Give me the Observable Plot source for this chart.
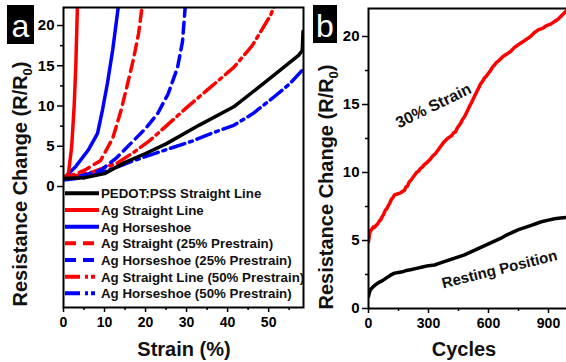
<!DOCTYPE html>
<html><head><meta charset="utf-8">
<script src="https://cdn.jsdelivr.net/npm/d3@7"></script>
<script src="https://cdn.jsdelivr.net/npm/@observablehq/plot@0.6"></script>
<style>
html,body{margin:0;padding:0;background:#fff;}
#wrap{position:relative;width:566px;height:362px;overflow:hidden;background:#fff;font-family:"Liberation Sans",Arial,sans-serif;}
#wrap > *{position:absolute;}
</style></head><body><div id="wrap"></div>
<script>
// ---------- Panel (a): resistance change vs strain ----------
const seriesNames = [
  "PEDOT:PSS Straight Line",
  "Ag Straight Line",
  "Ag Horseshoe",
  "Ag Straight (25% Prestrain)",
  "Ag Horseshoe (25% Prestrain)",
  "Ag Straight Line (50% Prestrain)",
  "Ag Horseshoe (50% Prestrain)"
];
const strainPEDOT = [0, 5, 10, 15, 20, 25, 33, 41.5, 50, 57.3, 58.2, 58.4];
const resPEDOT    = [1, 1.1, 1.6, 3.0, 4.1, 5.3, 7.6, 9.9, 13.3, 16.3, 16.9, 19.3];
const strainAgStraight = [0, 1.2, 2.0, 2.6, 3.0, 3.4];
const resAgStraight    = [1, 1.6, 5, 10, 15, 22.5];
const strainAgHorse = [0, 3, 6, 8.3, 9.5, 10.7, 12, 13.4];
const resAgHorse    = [1, 2.5, 4.5, 6.6, 9.5, 12.8, 17, 22.5];
const strainAgStraight25 = [0, 5, 9, 12, 14, 15.5, 17, 18.3, 19.2];
const resAgStraight25    = [1, 2, 3.2, 6, 9.4, 12.5, 15.7, 19, 22.5];
const strainAgHorse25 = [0, 5, 9, 13, 16.3, 20, 23, 25.5, 27.8, 29, 29.7];
const resAgHorse25    = [1, 1.4, 2, 3.6, 5.3, 7.2, 9.1, 11.5, 14.8, 18, 22.5];
const strainAgStraight50 = [0, 7, 13, 17, 21, 25, 30, 36, 41.5, 46, 50.5, 51.4];
const resAgStraight50    = [1, 1.8, 2.9, 4.2, 5.7, 7.5, 9.8, 12.4, 14.8, 17.5, 21.3, 22.5];
const strainAgHorse50 = [0, 5, 9, 13, 17, 24, 31.7, 36, 41.5, 46, 51, 55, 58.5];
const resAgHorse50    = [0.8, 1.1, 1.7, 2.4, 3.2, 4.4, 5.7, 6.6, 7.6, 9, 11, 12.7, 14.6];

const strainTicks = [0, 10, 20, 30, 40, 50];
const strainMinorTicks = [5, 15, 25, 35, 45, 55];
const resTicksA = [0, 5, 10, 15, 20];
const resMinorTicksA = [2.5, 7.5, 12.5, 17.5];

// ---------- Panel (b): resistance change vs cycles ----------
const cyclesStrain = [0,5,10,15,25,30,40,45,55,60,70,75,85,90,100,105,115,120,130,140,150,160,170,180,188,195,203,210,220,230,240,250,260,270,280,290,300,310,320,335,345,355,365,375,385,395,405,415,425,435,445,450,460,470,480,490,500,510,520,530,540,550,560,570,580,590,600,610,620,630,640,650,660,670,680,690,700,710,720,730,740,750,760,770,780,790,800,810,820,830,840,850,860,870,880,890,900,910,920,930,940,950,960,970,980,990];
const resStrain    = [4.9,5.5,5.7,5.8,6.0,5.95,6.15,6.2,6.45,6.5,6.8,6.9,7.25,7.3,7.6,7.7,8.05,8.1,8.35,8.4,8.45,8.5,8.6,8.7,8.95,9.0,9.3,9.4,9.6,9.8,10.0,10.1,10.3,10.4,10.6,10.7,10.85,11.0,11.2,11.4,11.6,11.8,12.0,12.2,12.35,12.5,12.6,12.7,12.9,13.0,13.3,13.4,13.6,13.9,14.1,14.4,14.7,15.0,15.3,15.6,15.9,16.2,16.5,16.7,16.95,17.1,17.3,17.5,17.75,17.9,18.1,18.2,18.35,18.5,18.6,18.7,18.8,18.9,19.05,19.2,19.3,19.4,19.5,19.6,19.7,19.8,19.9,20.0,20.15,20.3,20.4,20.5,20.55,20.6,20.7,20.8,20.85,20.9,21.0,21.1,21.2,21.3,21.45,21.6,21.75,21.9];
const cyclesRest = [0,5,10,20,35,50,70,90,110,130,150,170,190,210,240,270,300,330,360,390,420,450,480,510,540,570,600,630,660,690,720,750,780,810,840,870,900,930,960,990];
const resRest    = [0.9,1.2,1.4,1.55,1.75,1.9,2.05,2.25,2.45,2.6,2.65,2.7,2.8,2.85,2.95,3.05,3.15,3.2,3.35,3.5,3.65,3.8,3.95,4.15,4.35,4.55,4.75,4.95,5.15,5.4,5.6,5.8,5.95,6.1,6.25,6.4,6.5,6.6,6.65,6.7];
const cycleTicks = [0, 300, 600, 900];
const cycleMinorTicks = [150, 450, 750];
const resTicksB = [0, 5, 10, 15, 20];
const resMinorTicksB = [2.5, 7.5, 12.5, 17.5];
const annotText = ["30% Strain", "Resting Position"];
const annotCycles = [325, 655];
const annotRes = [14.9, 2.87];

// ---------- styles ----------
const RED = "#ff0000", BLUE = "#0000ff", BLACK = "#000000";
const styleA = [
  {stroke: BLACK, dash: null},
  {stroke: RED, dash: null},
  {stroke: BLUE, dash: null},
  {stroke: RED, dash: "11,6"},
  {stroke: BLUE, dash: "11,6"},
  {stroke: RED, dash: "15,5,3,5"},
  {stroke: BLUE, dash: "15,5,3,5"}
];
const strainArrays = [strainPEDOT, strainAgStraight, strainAgHorse, strainAgStraight25, strainAgHorse25, strainAgStraight50, strainAgHorse50];
const resArrays = [resPEDOT, resAgStraight, resAgHorse, resAgStraight25, resAgHorse25, resAgStraight50, resAgHorse50];

const FONT = '"Liberation Sans", Arial, Helvetica, sans-serif';
const wrap = document.getElementById("wrap");

const lineMarksA = seriesNames.map((name, i) => {
  const data = strainArrays[i].map((s, j) => ({strain: s, res: resArrays[i][j], series: name}));
  return Plot.line(data, {x: "strain", y: "res", stroke: styleA[i].stroke, strokeWidth: 3.5,
    strokeDasharray: styleA[i].dash ?? undefined, clip: true, curve: "linear"});
});

const plotA = Plot.plot({
  width: 310, height: 362,
  marginLeft: 63, marginRight: 7, marginTop: 7, marginBottom: 55,
  x: {domain: [0, 58.5]},
  y: {domain: [-15.03, 22.24]},
  style: {fontFamily: FONT, fontWeight: "bold", color: "black", background: "white", overflow: "visible"},
  marks: [
    ...lineMarksA.slice().reverse(),
    Plot.axisX(strainTicks, {tickSize: 5, tickPadding: 5, fontSize: 14, strokeWidth: 1.5, label: null}),
    Plot.axisX(strainMinorTicks, {tickSize: 3, tickFormat: () => "", strokeWidth: 1.5, label: null}),
    Plot.axisY(resTicksA, {tickSize: 6, tickPadding: 3, fontSize: 15, strokeWidth: 1.5, label: null}),
    Plot.axisY(resMinorTicksA, {tickSize: 3, tickFormat: () => "", strokeWidth: 1.5, label: null}),
    Plot.frame({stroke: "black", strokeWidth: 2})
  ]
});
plotA.style.left = "0px"; plotA.style.top = "0px";
wrap.appendChild(plotA);

const dataStrain = cyclesStrain.map((c, i) => ({cycle: c, res: resStrain[i]}));
const dataRest = cyclesRest.map((c, i) => ({cycle: c, res: resRest[i]}));
const annots = annotText.map((t, i) => ({text: t, cycle: annotCycles[i], res: annotRes[i]}));

const plotB = Plot.plot({
  width: 263, height: 362,
  marginLeft: 63, marginRight: 1, marginTop: 8, marginBottom: 54,
  x: {domain: [0, 995]},
  y: {domain: [0, 22.06]},
  style: {fontFamily: FONT, fontWeight: "bold", color: "black", background: "white", overflow: "visible"},
  marks: [
    Plot.line(dataRest, {x: "cycle", y: "res", stroke: BLACK, strokeWidth: 3.5, clip: true}),
    Plot.line(dataStrain, {x: "cycle", y: "res", stroke: RED, strokeWidth: 3.5, clip: true}),
    Plot.text(annots.slice(0, 1), {x: "cycle", y: "res", text: "text", rotate: -26, fontSize: 16, fontWeight: "bold", fill: "#111"}),
    Plot.text(annots.slice(1, 2), {x: "cycle", y: "res", text: "text", rotate: -14, fontSize: 15, fontWeight: "bold", fill: "#111"}),
    Plot.axisX(cycleTicks, {tickSize: 5, tickPadding: 5, fontSize: 14, strokeWidth: 1.5, label: null}),
    Plot.axisX(cycleMinorTicks, {tickSize: 3, tickFormat: () => "", strokeWidth: 1.5, label: null}),
    Plot.axisY(resTicksB, {tickSize: 6, tickPadding: 3, fontSize: 15, strokeWidth: 1.5, label: null}),
    Plot.axisY(resMinorTicksB, {tickSize: 3, tickFormat: () => "", strokeWidth: 1.5, label: null}),
    Plot.frame({stroke: "black", strokeWidth: 2})
  ]
});
plotB.style.left = "305px"; plotB.style.top = "0px";
wrap.appendChild(plotB);

// ---------- overlay: titles, panel tags, legend ----------
const NS = "http://www.w3.org/2000/svg";
const ov = document.createElementNS(NS, "svg");
ov.setAttribute("width", 566); ov.setAttribute("height", 362);
ov.style.left = "0px"; ov.style.top = "0px";
ov.style.fontFamily = FONT;
wrap.appendChild(ov);
function el(tag, attrs, parent = ov) {
  const e = document.createElementNS(NS, tag);
  for (const k in attrs) e.setAttribute(k, attrs[k]);
  parent.appendChild(e);
  return e;
}
function yTitle(x, y) {
  const t = el("text", {transform: `translate(${x},${y}) rotate(-90)`, "text-anchor": "middle", "font-size": 20, "font-weight": "bold", fill: "#111"});
  t.appendChild(document.createTextNode("Resistance Change (R/R"));
  const sub = el("tspan", {"font-size": 13, dy: 5}, t);
  sub.textContent = "0";
  const close = el("tspan", {dy: -5}, t);
  close.textContent = ")";
}
yTitle(27, 184);
yTitle(333, 187);
el("text", {x: 184, y: 356, "text-anchor": "middle", "font-size": 20, "font-weight": "bold", fill: "#111"}).textContent = "Strain (%)";
el("text", {x: 464, y: 356, "text-anchor": "middle", "font-size": 20, "font-weight": "bold", fill: "#111"}).textContent = "Cycles";

// panel tags
el("rect", {x: 7, y: 5, width: 27, height: 39, fill: "#000"});
el("text", {x: 20.5, y: 37, "text-anchor": "middle", "font-size": 32, fill: "#fff"}).textContent = "a";
el("rect", {x: 313, y: 5, width: 24, height: 38, fill: "#000"});
el("text", {x: 325, y: 37, "text-anchor": "middle", "font-size": 32, fill: "#fff"}).textContent = "b";

// legend
seriesNames.forEach((name, i) => {
  const cy = 193.3 + i * 16.67;
  const ln = el("line", {x1: 65, x2: i >= 5 ? 95 : (i >= 3 ? 94 : 99), y1: cy, y2: cy, stroke: styleA[i].stroke, "stroke-width": 4});
  if (styleA[i].dash) ln.setAttribute("stroke-dasharray", i >= 5 ? "15,5,3,3" : "11,7");
  el("text", {x: 101, y: cy + 5, "font-size": 13.3, "font-weight": "bold", fill: "#111"}).textContent = name;
});
</script></body></html>
